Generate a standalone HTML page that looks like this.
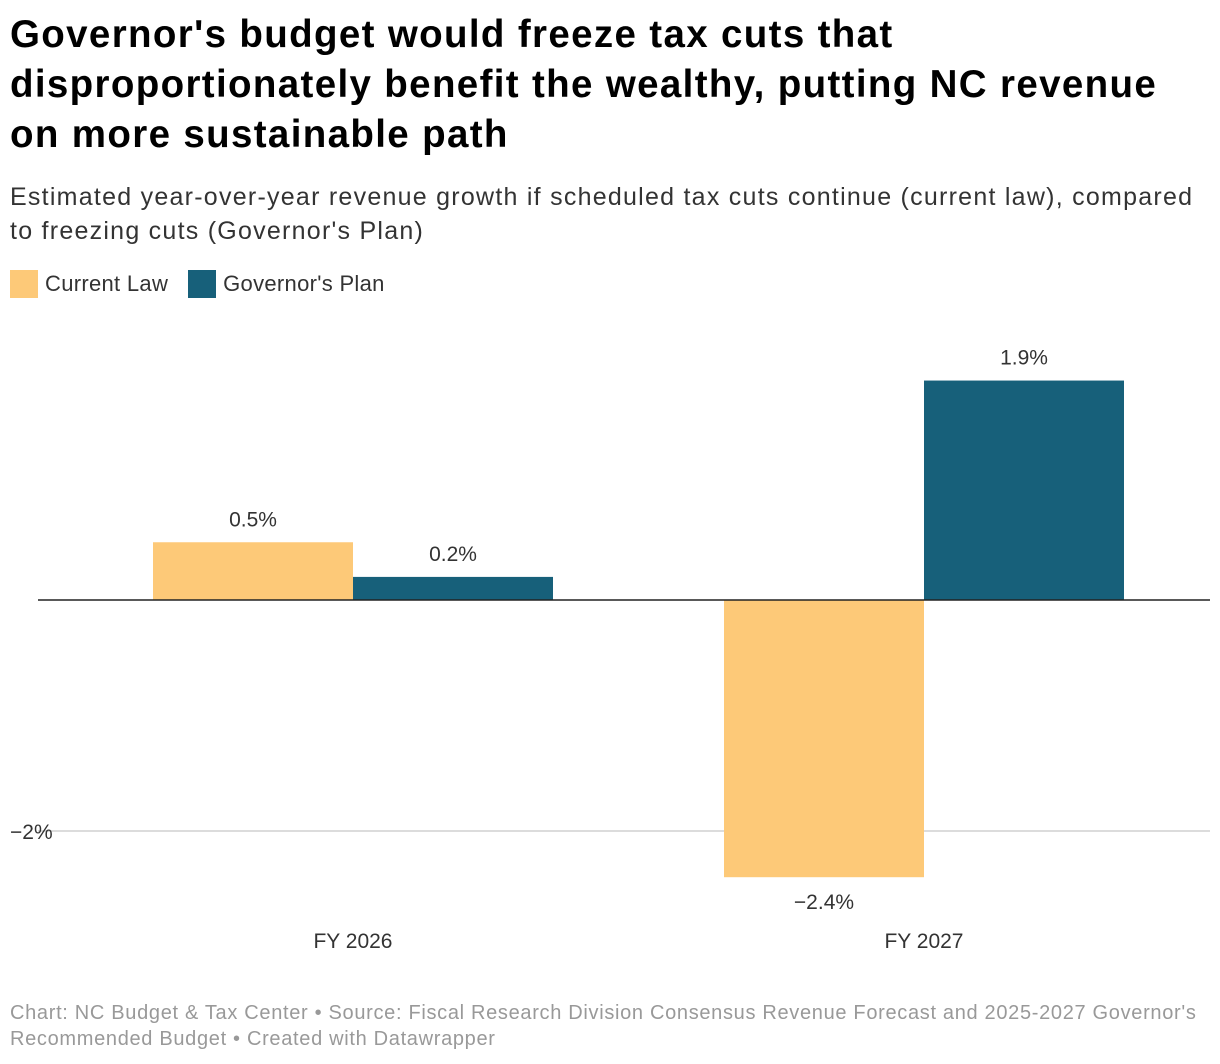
<!DOCTYPE html>
<html><head><meta charset="utf-8"><style>
body{margin:0;width:1220px;height:1064px;background:#fff;font-family:"Liberation Sans",Arial,sans-serif;position:relative;overflow:hidden}
h1{position:absolute;left:10px;top:10px;margin:0;font-size:38.5px;line-height:50px;font-weight:bold;color:#000;letter-spacing:1.35px;width:1210px;white-space:nowrap}
.sub{position:absolute;left:10px;top:180px;font-size:25px;line-height:34px;color:#333;width:1210px;white-space:nowrap;letter-spacing:1.25px}
.legend{position:absolute;left:10px;top:270px;font-size:22px;color:#333;display:flex;align-items:center}
.sw{display:inline-block;width:28px;height:28px;margin-right:7px}
.foot{position:absolute;left:10px;top:1000px;font-size:20px;line-height:26px;color:#999;width:1210px;white-space:nowrap;letter-spacing:0.68px}
svg{position:absolute;left:0;top:0}
</style></head><body>
<h1>Governor's budget would freeze tax cuts that<br>disproportionately benefit the wealthy, putting NC revenue<br>on more sustainable path</h1>
<div class="sub">Estimated year-over-year revenue growth if scheduled tax cuts continue (current law), compared<br>to freezing cuts (Governor's Plan)</div>
<div class="legend">
<span class="sw" style="background:#fdc978"></span><span style="margin-right:20px;letter-spacing:0.3px">Current Law</span>
<span class="sw" style="background:#17607a"></span><span style="letter-spacing:0.3px">Governor's Plan</span>
</div>
<svg id="chart" width="1220" height="1064"></svg>
<div class="foot">Chart: NC Budget &amp; Tax Center • Source: Fiscal Research Division Consensus Revenue Forecast and 2025-2027 Governor's<br>Recommended Budget • Created with Datawrapper</div>
<script>
const categories=["FY 2026","FY 2027"];
const currentLaw=[0.5,-2.4];
const governorsPlan=[0.2,1.9];
const seriesNames=["current-law","governors-plan"];
const colors=["#fdc978","#17607a"];
const gridTicks=[-2];
const NS="http://www.w3.org/2000/svg";
const svg=document.getElementById('chart');
const y0=600, pxPer=115.5;
const y=v=>y0-v*pxPer;
const xc=i=>353+i*571;
const bw=200;
function mk(t,a){const e=document.createElementNS(NS,t);for(const k in a)e.setAttribute(k,a[k]);svg.appendChild(e);return e;}
gridTicks.forEach(t=>{
 const l=mk('line',{x1:38,x2:1210,y1:y(t),y2:y(t),stroke:'#d0d0d0','stroke-width':1.5});
 
 
 const tx=mk('text',{x:10,y:y(t)+8,'font-size':21,fill:'#333','font-family':'Liberation Sans, sans-serif'});
 tx.textContent=(t<0?'\u2212':'')+Math.abs(t)+'%';
 
 
});
const fmt=v=>(v<0?'\u2212':'')+Math.abs(v).toFixed(1)+'%';
[currentLaw,governorsPlan].forEach((s,si)=>{
 s.forEach((v,i)=>{
  const x=xc(i)-bw+si*bw;
  const top=Math.min(y(v),y0),h=Math.abs(y(v)-y0);
  const r=mk('rect',{x:x,y:top,width:bw,height:h,fill:colors[si]});
  
  
  const ly=v>=0?y(v)-16:y(v)+32;
  const t=mk('text',{x:x+bw/2,y:ly,'text-anchor':'middle','font-size':21,fill:'#333','font-family':'Liberation Sans, sans-serif'});
  t.textContent=fmt(v);
  
  
 });
});
const z=mk('line',{x1:38,x2:1210,y1:y0,y2:y0,stroke:'#222','stroke-width':1.5});


categories.forEach((c,i)=>{
 const t=mk('text',{x:xc(i),y:948,'text-anchor':'middle','font-size':21,fill:'#333','font-family':'Liberation Sans, sans-serif'});
 t.textContent=c;
 
 
});
</script>
</body></html>
